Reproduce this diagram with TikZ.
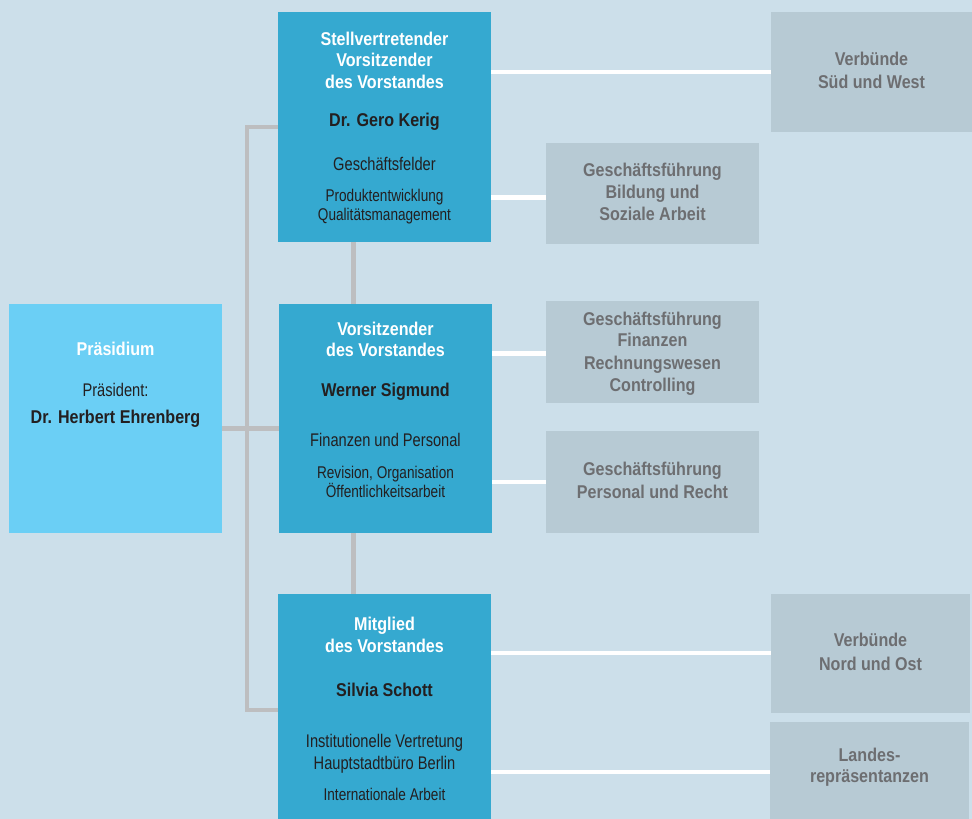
\documentclass[tikz,border=0pt]{standalone}
\usepackage{fontspec}
\newfontfamily\regfont{Liberation Sans}[FakeStretch=0.8]
\newfontfamily\boldfam{Liberation Sans}[FakeStretch=0.87]

\definecolor{bgcol}{HTML}{CCDFEA}
\definecolor{praescol}{HTML}{6BCFF5}
\definecolor{boardcol}{HTML}{35A9D0}
\definecolor{unitcol}{HTML}{B7CAD4}
\definecolor{unittext}{HTML}{6D6E71}
\definecolor{darktext}{HTML}{231F20}
\definecolor{linkgray}{HTML}{BDBEC0}

\pgfdeclarelayer{canvas}
\pgfdeclarelayer{links}
\pgfsetlayers{canvas,links,main}

\tikzset{
  panel/.style={rectangle, draw=none, inner sep=0pt, anchor=north west},
  praesbox/.style={panel, fill=praescol},
  boardbox/.style={panel, fill=boardcol},
  unitbox/.style={panel, fill=unitcol},
  txt/.style={anchor=base, inner sep=0pt},
  head/.style={txt, text=white, font=\boldfam\bfseries\fontsize{18.5}{22}\selectfont},
  person/.style={txt, text=darktext, font=\boldfam\bfseries\fontsize{18.5}{22}\selectfont},
  duty/.style={txt, text=darktext, font=\regfont\fontsize{18.3}{22}\selectfont},
  dutysmall/.style={txt, text=darktext, font=\regfont\fontsize{17}{20}\selectfont},
  unitlabel/.style={txt, text=unittext, font=\boldfam\bfseries\fontsize{18.5}{22}\selectfont},
  graylink/.style={draw=linkgray, line width=4.5pt, line cap=rect},
  whitelink/.style={draw=white, line width=4.5pt},
}

\begin{document}
\begin{tikzpicture}[x=1pt, y=-1pt]
\useasboundingbox (0,0) rectangle (972,819);
\begin{pgfonlayer}{canvas}
  \fill[bgcol] (0,0) rectangle (972,819);
\end{pgfonlayer}

% ---------- boxes ----------
\node[praesbox, minimum width=213pt, minimum height=229.5pt] (praes) at (9,303.3) {};
\node[boardbox, minimum width=212.7pt, minimum height=229.3pt] (top) at (278,12) {};
\node[boardbox, minimum width=212.7pt, minimum height=229.4pt] (mid) at (279,303.3) {};
\node[boardbox, minimum width=213pt, minimum height=225pt] (bot) at (278,594) {};

\node[unitbox, minimum width=201pt, minimum height=119.7pt] (sw) at (771,12) {};
\node[unitbox, minimum width=213pt, minimum height=101pt] (gfb) at (546,142.3) {};
\node[unitbox, minimum width=213pt, minimum height=101.7pt] (gff) at (546,301) {};
\node[unitbox, minimum width=213pt, minimum height=101.7pt] (gfp) at (546,431) {};
\node[unitbox, minimum width=199pt, minimum height=119.4pt] (no) at (771,593.3) {};
\node[unitbox, minimum width=199pt, minimum height=97.3pt] (lr) at (770,721.7) {};

% ---------- connectors ----------
\coordinate (spT) at (247,127);
\coordinate (spM) at (247,428.5);
\coordinate (spB) at (247,710);
\coordinate (vx) at (353.5,0);
\coordinate (lb) at ([yshift=-4.5pt]gfb.west);
\coordinate (lf) at ([yshift=-1.5pt]gff.west);
\coordinate (ll) at ([yshift=-1.5pt]lr.west);
\begin{pgfonlayer}{links}
  \draw[graylink] (spT) -- (spB);
  \draw[graylink] (spT) -- (spT -| top.west);
  \draw[graylink] (praes.east |- spM) -- (spM -| mid.west);
  \draw[graylink] (spB) -- (spB -| bot.west);
  \draw[graylink] (top.south -| vx) -- (mid.north -| vx);
  \draw[graylink] (mid.south -| vx) -- (bot.north -| vx);

  \draw[whitelink] (top.east |- sw.west) -- (sw.west);
  \draw[whitelink] (top.east |- lb) -- (lb);
  \draw[whitelink] (mid.east |- lf) -- (lf);
  \draw[whitelink] (mid.east |- gfp.west) -- (gfp.west);
  \draw[whitelink] (bot.east |- no.west) -- (no.west);
  \draw[whitelink] (bot.east |- ll) -- (ll);
\end{pgfonlayer}

% ---------- Präsidium ----------
\node[head]   (p1) at (115.5,355) {Präsidium};
\node[duty]   (p2) at (115.5,396) {Präsident:};
\node[person] (p3) at (115.5,423.3) {Dr. Herbert Ehrenberg};

% ---------- Vorstand: stellvertretender Vorsitz ----------
\node[head]      (t1) at (384.5,45)    {Stellvertretender};
\node[head]      (t2) at (384.5,66.7)  {Vorsitzender};
\node[head]      (t3) at (384.5,88.3)  {des Vorstandes};
\node[person]    (t4) at (384.5,126)   {Dr. Gero Kerig};
\node[duty]      (t5) at (384.5,170)   {Geschäftsfelder};
\node[dutysmall] (t6) at (384.5,201)   {Produktentwicklung};
\node[dutysmall] (t7) at (384.5,220.7) {Qualitätsmanagement};

% ---------- Vorstand: Vorsitz ----------
\node[head]      (m1) at (385.5,335.3) {Vorsitzender};
\node[head]      (m2) at (385.5,356.7) {des Vorstandes};
\node[person]    (m3) at (385.5,396.7) {Werner Sigmund};
\node[duty]      (m4) at (385.5,446)   {Finanzen und Personal};
\node[dutysmall] (m5) at (385.5,478.3) {Revision, Organisation};
\node[dutysmall] (m6) at (385.5,497.3) {Öffentlichkeitsarbeit};

% ---------- Vorstand: Mitglied ----------
\node[head]      (b1) at (384.5,630)   {Mitglied};
\node[head]      (b2) at (384.5,652)   {des Vorstandes};
\node[person]    (b3) at (384.5,696.7) {Silvia Schott};
\node[duty]      (b4) at (384.5,747.3) {Institutionelle Vertretung};
\node[duty]      (b5) at (384.5,769)   {Hauptstadtbüro Berlin};
\node[dutysmall] (b6) at (384.5,800)   {Internationale Arbeit};

% ---------- Geschäftsbereiche ----------
\node[unitlabel] (s1) at (871.5,65)    {Verbünde};
\node[unitlabel] (s2) at (871.5,88.3)  {Süd und West};

\node[unitlabel] (g1) at (652.5,176.7) {Geschäftsführung};
\node[unitlabel] (g2) at (652.5,198.3) {Bildung und};
\node[unitlabel] (g3) at (652.5,220.7) {Soziale Arbeit};

\node[unitlabel] (f1) at (652.5,325)   {Geschäftsführung};
\node[unitlabel] (f2) at (652.5,346.7) {Finanzen};
\node[unitlabel] (f3) at (652.5,369.3) {Rechnungswesen};
\node[unitlabel] (f4) at (652.5,391.7) {Controlling};

\node[unitlabel] (r1) at (652.5,475)   {Geschäftsführung};
\node[unitlabel] (r2) at (652.5,498.3) {Personal und Recht};

\node[unitlabel] (n1) at (870.5,646.7) {Verbünde};
\node[unitlabel] (n2) at (870.5,670)   {Nord und Ost};

\node[unitlabel] (l1) at (869.5,761.7) {Landes-};
\node[unitlabel] (l2) at (869.5,782.7) {repräsentanzen};
\end{tikzpicture}
\end{document}
